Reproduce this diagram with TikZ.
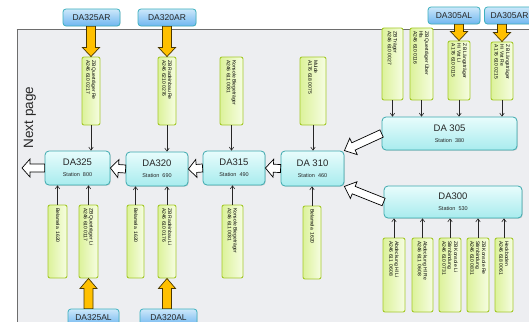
\documentclass[tikz,border=0pt]{standalone}
\usepackage{fontspec}
\setmainfont{Liberation Sans}
\usepackage{graphicx}
\usetikzlibrary{calc,shadows,arrows.meta}
\definecolor{panelbg}{HTML}{EDEEF1}
\definecolor{panelline}{HTML}{6D6D6D}
\definecolor{gline}{HTML}{A4C92A}
\definecolor{gleft}{HTML}{DCF29A}
\definecolor{gright}{HTML}{F6FDE2}
\definecolor{stline}{HTML}{3BA9AE}
\definecolor{sttop}{HTML}{E8FCFC}
\definecolor{stbot}{HTML}{A8ECEE}
\definecolor{blline}{HTML}{3DB0BE}
\definecolor{bltop}{HTML}{CDE8FA}
\definecolor{blbot}{HTML}{6FB6F0}
\definecolor{orangef}{HTML}{FFC000}
\definecolor{orangel}{HTML}{4A3800}
\newcommand\gtx[2]{\rotatebox{-90}{\parbox{#1}{\raggedright\fontsize{5}{5.8}\selectfont #2}}}
\newcommand\gbx[6]{\node[gbox, minimum width=#4pt, minimum height=#5pt] (#1) at (#2,#3) {\gtx{\dimexpr#5pt-6pt\relax}{#6}};}
\newcommand\stx[2]{{\fontsize{9.5}{10}\selectfont #1}\\[-1pt]{\fontsize{5.5}{6}\selectfont #2}}
\newcommand\blockarr[6]{%
  \coordinate (ba-a) at (#2);
  \coordinate (ba-b) at (#3);
  \coordinate (ba-q) at ($(ba-b)!#6!(ba-a)$);
  \draw[#1] ($(ba-a)!#4!90:(ba-b)$) -- ($(ba-q)!#4!90:(ba-b)$) -- ($(ba-q)!#5!90:(ba-b)$) -- (ba-b)
    -- ($(ba-q)!#5!-90:(ba-b)$) -- ($(ba-q)!#4!-90:(ba-b)$) -- ($(ba-a)!#4!-90:(ba-b)$) -- cycle;}
\begin{document}
\begin{tikzpicture}[x=1pt,y=-1pt,
  gbox/.style={draw=gline, line width=0.9pt, rounded corners=2pt, left color=gleft, right color=gright, inner sep=0pt, text=black},
  stbox/.style={draw=stline, line width=0.8pt, rounded corners=4pt, top color=sttop, bottom color=stbot, inner sep=0pt, align=center, text=black!85,
    drop shadow={shadow xshift=0.8pt, shadow yshift=-0.8pt, opacity=0.25}},
  blab/.style={draw=blline, line width=0.8pt, rounded corners=3pt, top color=bltop, bottom color=blbot, inner sep=0pt, minimum height=17pt, text=black!85,
    font=\fontsize{8.5}{9}\selectfont, drop shadow={shadow xshift=0.6pt, shadow yshift=-0.6pt, opacity=0.2}},
  tarr/.style={-{Straight Barb[length=3pt,width=4.5pt]}, line width=0.6pt, draw=black!85},
  oarr/.style={fill=orangef, draw=orangel, line width=0.7pt},
  harr/.style={fill=white, draw=black, line width=0.7pt}]
\useasboundingbox (0,0) rectangle (529,321);
\clip (0,0) rectangle (529,321);
% panel
\fill[panelbg] (17,29) rectangle (540,330);
\draw[panelline, line width=0.8pt] (17,330) -- (17,29.5);
\draw[panelline, line width=1.2pt] (16.6,29.5) -- (540,29.5);
\node[rotate=90, font=\fontsize{13.5}{14}\selectfont, text=black!85] (np-text) at (30,117.5) {Next page};

% top labels
\node[blab, minimum width=57pt] (l325ar) at (91.5,17.5) {DA325AR};
\node[blab, minimum width=58pt] (l320ar) at (167,17.5) {DA320AR};
\node[blab, minimum width=52pt] (l305al) at (454,15.5) {DA305AL};
\node[blab, minimum width=50pt] (l305ar) at (509.5,15.5) {DA305AR};
% bottom labels
\node[blab, minimum width=51pt] (l325al) at (93.5,317.5) {DA325AL};
\node[blab, minimum width=57pt] (l320al) at (168.5,317.5) {DA320AL};

% stations
\coordinate (np) at (22,168);
\node[stbox, minimum width=65pt, minimum height=34pt] (s325) at (77.5,168) {\stx{DA325}{Station\ \ 800}};
\node[stbox, minimum width=62pt, minimum height=34pt] (s320) at (157,169) {\stx{DA320}{Station\ \ 690}};
\node[stbox, minimum width=62pt, minimum height=34pt] (s315) at (234,168) {\stx{DA315}{Station\ \ 490}};
\node[stbox, minimum width=63pt, minimum height=35pt] (s310) at (312.5,168.5) {\stx{DA 310}{Station\ \ 460}};
\node[stbox, minimum width=135pt, minimum height=33pt] (s305) at (449.5,133.5) {\stx{DA 305}{Station\ \ 380}};
\node[stbox, minimum width=138pt, minimum height=32pt] (s300) at (453,202) {\stx{DA300}{Station\ \ 530}};

% hollow arrows
\blockarr{harr}{s325.west}{np}{4pt}{9pt}{8pt}
\blockarr{harr}{s320.west}{s325.east}{4pt}{9pt}{8pt}
\blockarr{harr}{s315.west}{s320.east}{4pt}{9pt}{8pt}
\blockarr{harr}{s310.west}{s315.east}{4pt}{9pt}{8pt}
\blockarr{harr}{s305.west}{s310.north east}{4pt}{9pt}{10pt}
\blockarr{harr}{s300.west}{s310.south east}{4pt}{9pt}{10pt}

% green boxes, top row
\gbx{g1}{91}{91}{18}{68}{ZB Querträger Re\\A246 610 0217}
\gbx{g2}{167}{91}{18}{68}{ZB Radeinbau Re\\A246 6210 0276}
\gbx{g3}{231.5}{91}{23}{68}{Konsole Biegeträger\\A246 611 0031}
\gbx{g4}{313}{91}{26}{68}{Mulde\\A176 618 0075}
\gbx{g5}{392.5}{64}{21}{72}{ZB Träger\\A246 610 0027}
\gbx{g6}{421.5}{64}{23}{72}{ZB Querträger Über\\Hls\\A246 610 0116}
\gbx{g7}{459}{70.5}{22}{59}{ZB Längsträger\\Hi Vst Li\\A176 610 0115}
\gbx{g8}{502}{71}{22}{58}{ZB Längsträger\\Hi Vst Re\\A176 610 0215}
% green boxes, bottom row
\gbx{b1}{57.5}{241.5}{19}{73}{Belamela\ \ 1620}
\gbx{b2}{88.5}{241.5}{19}{73}{ZB Querträger Li\\A246 610 0117}
\gbx{b3}{135.5}{241.5}{17}{73}{Belamela\ \ 1620}
\gbx{b4}{167}{241.5}{18}{73}{ZB Radeinbau Li\\A246 610 0176}
\gbx{b5}{232.5}{241.5}{21}{73}{Konsole Biegeträger\\A246 611 0031}
\gbx{b6}{312}{242.5}{18}{73}{Belamela\ \ 1620}
\gbx{b7}{394}{275}{22}{74}{Abdeckung Hl Li\\A246 611\ \ 0608}
\gbx{b8}{422.5}{275}{21}{74}{Abdeckung Hl Re\\A246 611\ \ 0608}
\gbx{b9}{450}{275}{22}{74}{ZB Konsole Li\\Stirnbindung\\A246 610 0731}
\gbx{b10}{478}{275}{22}{74}{ZB Konsole Re\\Stirnbindung\\A246 610 0831}
\gbx{b11}{504}{275}{18}{74}{Heckboden\\A246 618 0061}

% thin arrows
\draw[tarr] (g1.south) -- (g1.south |- s325.north);
\draw[tarr] (g2.south) -- (g2.south |- s320.north);
\draw[tarr] (g3.south) -- (g3.south |- s315.north);
\draw[tarr] (g4.south) -- (g4.south |- s310.north);
\draw[tarr] (g5.south) -- (g5.south |- s305.north);
\draw[tarr] (g6.south) -- (g6.south |- s305.north);
\draw[tarr] (g7.south) -- (g7.south |- s305.north);
\draw[tarr] (g8.south) -- (g8.south |- s305.north);
\draw[tarr] (b1.north) -- (b1.north |- s325.south);
\draw[tarr] (b2.north) -- (b2.north |- s325.south);
\draw[tarr] (b3.north) -- (b3.north |- s320.south);
\draw[tarr] (b4.north) -- (b4.north |- s320.south);
\draw[tarr] (b5.north) -- (b5.north |- s315.south);
\draw[tarr] (b6.north) -- (b6.north |- s310.south);
\draw[tarr] (b7.north) -- (b7.north |- s300.south);
\draw[tarr] (b8.north) -- (b8.north |- s300.south);
\draw[tarr] (b9.north) -- (b9.north |- s300.south);
\draw[tarr] (b10.north) -- (b10.north |- s300.south);
\draw[tarr] (b11.north) -- (b11.north |- s300.south);

% orange arrows
\blockarr{oarr}{g1.north |- l325ar.south}{g1.north}{4.5pt}{8.5pt}{9pt}
\blockarr{oarr}{g2.north |- l320ar.south}{g2.north}{4.5pt}{8.5pt}{9pt}
\blockarr{oarr}{g7.north |- l305al.south}{g7.north}{4.5pt}{8.5pt}{9pt}
\blockarr{oarr}{g8.north |- l305ar.south}{g8.north}{4.5pt}{8.5pt}{9pt}
\blockarr{oarr}{b2.south |- l325al.north}{b2.south}{4.5pt}{8.5pt}{10pt}
\blockarr{oarr}{b4.south |- l320al.north}{b4.south}{4.5pt}{8.5pt}{10pt}
\end{tikzpicture}
\end{document}
